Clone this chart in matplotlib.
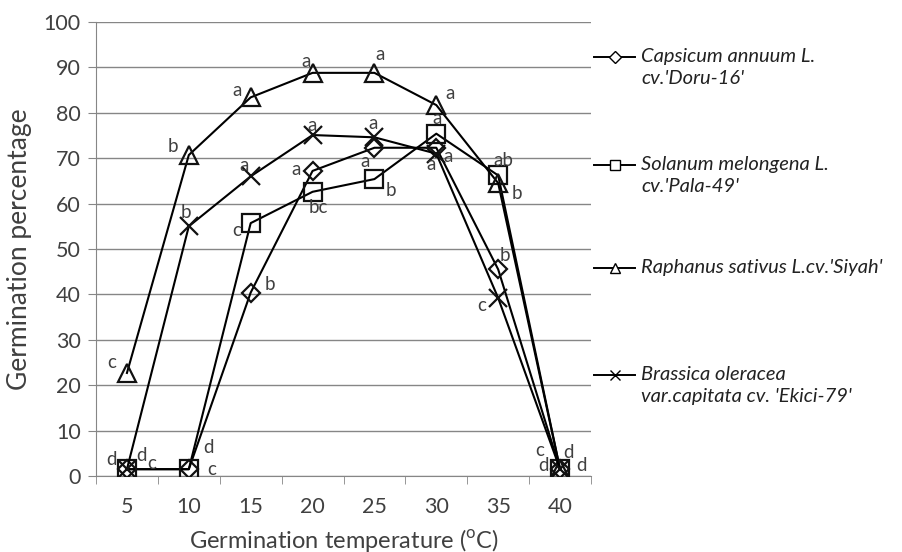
import matplotlib
matplotlib.use('Agg')
import matplotlib.pyplot as plt
from matplotlib.lines import Line2D

plt.rcParams['font.family'] = ['Lato', 'DejaVu Sans']
plt.rcParams['mathtext.fontset'] = 'custom'
plt.rcParams['mathtext.rm'] = 'Lato'

# temperatures (categories)
temps = ['5', '10', '15', '20', '25', '30', '35', '40']

# germination percentages
capsicum = [1.5, 1.5, 40.4, 67.2, 72.3, 72.3, 45.5, 1.5]
solanum = [1.5, 1.5, 55.7, 62.6, 65.4, 75.4, 66.2, 1.5]
raphanus = [22.7, 70.7, 83.4, 88.8, 88.8, 81.7, 64.5, 1.5]
brassica = [1.5, 55.0, 66.0, 75.1, 74.6, 71.0, 39.2, 1.5]

# significance letters
capsicum_let = ['d', 'd', 'b', 'a', 'a', 'a', 'b', 'd']
solanum_let = ['c', 'c', 'c', 'bc', 'b', 'a', 'ab', 'd']
raphanus_let = ['c', 'b', 'a', 'a', 'a', 'a', 'b', 'c']
brassica_let = ['d', 'b', 'a', 'a', 'a', 'a', 'c', 'd']

# where each letter sits relative to its point (pixels)
capsicum_off = [(-15, 10), (20, 22), (19, 8), (-17, 1), (-9, -14), (-5, -17), (7, 14), (-17, 4)]
solanum_off = [(25, 6), (23, 0), (-14, -7), (6, -16), (16, -11), (1, 15), (5, 15), (21, 4)]
raphanus_off = [(-15, 10), (-16, 9), (-14, 7), (-7, 11), (6, 18), (14, 12), (19, -10), (-20, 19)]
brassica_off = [(15, 14), (-3, 14), (-7, 11), (-1, 10), (-1, 14), (12, -3), (-16, -7), (8, 17)]

legend_names = ["Capsicum annuum L.\ncv.'Doru-16'",
                "Solanum melongena L.\ncv.'Pala-49'",
                "Raphanus sativus L.cv.'Siyah'",
                "Brassica oleracea\nvar.capitata cv. 'Ekici-79'"]

series = [
    (capsicum, capsicum_let, capsicum_off, 'D', 9.5),
    (solanum, solanum_let, solanum_off, 's', 12.5),
    (raphanus, raphanus_let, raphanus_off, '^', 12.5),
    (brassica, brassica_let, brassica_off, 'x', 13),
]

grey = '#868686'
txt = '#404040'

fig = plt.figure(figsize=(9.02, 5.52), dpi=100)
ax = fig.add_axes([96 / 902, 1 - 476 / 552, (591 - 96) / 902, (476 - 22) / 552])

for vals, lets, offs, mk, ms in series:
    ax.plot(temps, vals, color='black', lw=1.5, marker=mk, ms=ms,
            mfc='none', mec='#111111', mew=1.6, zorder=3)
    for t, v, l, (dx, dy) in zip(temps, vals, lets, offs):
        ax.annotate(l, (t, v), xytext=(dx, dy), textcoords='offset pixels',
                    ha='center', va='center', fontsize=13.5, color=txt, zorder=4)

ax.set_xlim(-0.5, 7.5)
ax.set_ylim(0, 100)
ax.set_yticks(range(0, 101, 10))
ax.grid(axis='y', color=grey, lw=1)
ax.set_axisbelow(True)
for s in ['top', 'right']:
    ax.spines[s].set_visible(False)
ax.spines['left'].set_color(grey)
ax.spines['bottom'].set_color(grey)
ax.tick_params(axis='y', length=6, color=grey, labelsize=15.5, labelcolor=txt, pad=5)
ax.tick_params(axis='x', length=0, labelsize=15.5, labelcolor=txt, pad=15)
ax.set_xticks([i + 0.5 for i in range(-1, 8)], minor=True)
ax.tick_params(axis='x', which='minor', length=6, color=grey, direction='out')
ax.set_xlabel('Germination temperature ($^{\\mathrm{o}}$C)', fontsize=17, color=txt, labelpad=7)
ax.set_ylabel('Germination percentage', fontsize=19, color=txt, labelpad=8)

# legend on the right
leg_y = [57, 165, 268, 375]
for (vals, lets, offs, mk, ms), name, y in zip(series, legend_names, leg_y):
    yf = 1 - y / 552
    fig.add_artist(Line2D([594 / 902, 635 / 902], [yf, yf], color='black', lw=1.4,
                          transform=fig.transFigure))
    fig.add_artist(Line2D([615 / 902], [yf], marker=mk, ms=ms * 0.6, mfc='white',
                          mec='black', mew=1, transform=fig.transFigure))
    fig.text(641 / 902, yf + 9 / 552, name, fontsize=14.5, style='italic', color='#222222',
             ha='left', va='top', linespacing=1.35)

fig.savefig('out.png', dpi=100)
